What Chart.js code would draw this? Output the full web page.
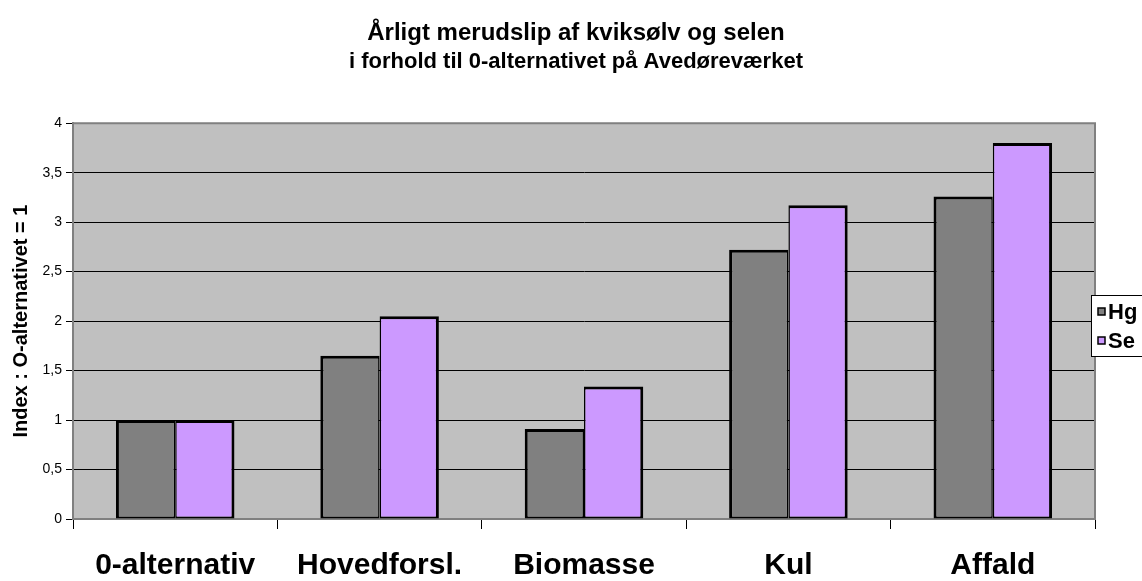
<!DOCTYPE html>
<html>
<head>
<meta charset="utf-8">
<script src="https://cdn.jsdelivr.net/npm/chart.js@4/dist/chart.umd.min.js"></script>
<style>
  html, body { margin: 0; padding: 0; background: #fff; }
  #wrap { width: 1142px; height: 581px; position: relative; }
</style>
</head>
<body>
<div id="wrap"><canvas id="graf"></canvas></div>
<script>
// data
const kategorier = ['0-alternativ', 'Hovedforsl.', 'Biomasse', 'Kul', 'Affald'];
const hgVaerdier = [1.0, 1.65, 0.91, 2.72, 3.26];
const seVaerdier = [1.0, 2.05, 1.34, 3.17, 3.80];
const yTicks = ['0', '0,5', '1', '1,5', '2', '2,5', '3', '3,5', '4'];
const titel = 'Årligt merudslip af kviksølv og selen';
const undertitel = 'i forhold til 0-alternativet på Avedøreværket';
const yTitel = 'Index : O-alternativet = 1';

const FONT = "'Liberation Sans', Arial, sans-serif";

// grå plotbaggrund + ramme
const plotBaggrund = {
  id: 'plotBaggrund',
  afterLayout(chart) {
    // titel og undertitel centreres lidt længere mod højre, som i Excel-figuren
    chart.boxes.forEach(b => {
      if (b.options && b.options.text !== undefined && b.fullSize) b.left = 57;
    });
  },
  beforeDraw(chart) {
    const { ctx, chartArea: a } = chart;
    ctx.save();
    ctx.fillStyle = '#c0c0c0';
    ctx.fillRect(a.left, a.top, a.right - a.left, a.bottom - a.top);
    ctx.restore();
  },
  beforeDatasetsDraw(chart) {
    const { ctx, chartArea: a } = chart;
    ctx.save();
    ctx.strokeStyle = '#808080';
    ctx.lineWidth = 2;
    ctx.beginPath();
    ctx.moveTo(a.left, a.top);
    ctx.lineTo(a.right, a.top);
    ctx.lineTo(a.right, a.bottom);
    ctx.stroke();
    ctx.restore();
  }
};

// forklaring i boks til højre (som i Excel)
const forklaring = {
  id: 'forklaring',
  afterDraw(chart) {
    const { ctx } = chart;
    const x = 1091, y = 295, w = 60, h = 61;
    ctx.save();
    ctx.fillStyle = '#fff';
    ctx.fillRect(x, y, w, h);
    ctx.strokeStyle = '#000';
    ctx.lineWidth = 1;
    ctx.strokeRect(x + 0.5, y + 0.5, w, h);
    ctx.font = 'bold 22px ' + FONT;
    ctx.textBaseline = 'middle';
    chart.data.datasets.forEach((ds, i) => {
      const cy = 312 + i * 29;
      ctx.fillStyle = ds.backgroundColor;
      ctx.fillRect(1098, cy - 4, 7, 7);
      ctx.strokeStyle = '#000';
      ctx.lineWidth = 1.5;
      ctx.strokeRect(1098, cy - 4, 7, 7);
      ctx.fillStyle = '#000';
      ctx.fillText(ds.label, 1108, cy + 1);
    });
    ctx.restore();
  }
};

new Chart(document.getElementById('graf').getContext('2d'), {
  type: 'bar',
  data: {
    labels: kategorier,
    datasets: [
      {
        label: 'Hg',
        data: hgVaerdier,
        backgroundColor: '#808080',
        borderColor: '#000',
        borderWidth: { top: 3, left: 3, right: 1.5, bottom: 2 },
        borderSkipped: false,
        barPercentage: 1,
        categoryPercentage: 0.58
      },
      {
        label: 'Se',
        data: seVaerdier,
        backgroundColor: '#cc99ff',
        borderColor: '#000',
        borderWidth: { top: 3, left: 1.5, right: 3, bottom: 2 },
        borderSkipped: false,
        barPercentage: 1,
        categoryPercentage: 0.58
      }
    ]
  },
  options: {
    responsive: true,
    maintainAspectRatio: false,
    animation: false,
    layout: { padding: { left: 0, right: 47, top: 0, bottom: 0 } },
    scales: {
      x: {
        afterFit(scale) { scale.height = 62; },
        grid: {
          drawOnChartArea: false,
          drawTicks: true,
          tickLength: 10,
          tickColor: '#000'
        },
        border: { color: '#808080', width: 2 },
        ticks: {
          color: '#000',
          padding: 19,
          font: { family: FONT, size: 30, weight: 'bold' }
        }
      },
      y: {
        min: 0,
        max: 4,
        afterFit(scale) { scale.width = 73; },
        grid: {
          color: ctx => (ctx.index === 0 || ctx.index === yTicks.length - 1) ? '#808080' : '#000',
          tickColor: '#000',
          tickLength: 7,
          lineWidth: 1
        },
        border: { color: '#808080', width: 2 },
        ticks: {
          stepSize: 0.5,
          color: '#000',
          padding: 4,
          font: { family: FONT, size: 14 },
          callback: (v, i) => yTicks[i]
        },
        title: {
          display: true,
          text: yTitel,
          color: '#000',
          padding: { top: 9, bottom: 0 },
          font: { family: FONT, size: 20, weight: 'bold' }
        }
      }
    },
    plugins: {
      legend: { display: false },
      tooltip: { enabled: false },
      title: {
        display: true,
        text: titel,
        color: '#000',
        padding: { top: 19, bottom: 0 },
        font: { family: FONT, size: 24, weight: 'bold', lineHeight: 1.2 }
      },
      subtitle: {
        display: true,
        text: undertitel,
        color: '#000',
        padding: { top: 1, bottom: 48 },
        font: { family: FONT, size: 22, weight: 'bold', lineHeight: 1.2 }
      }
    }
  },
  plugins: [plotBaggrund, forklaring]
});
</script>
</body>
</html>
